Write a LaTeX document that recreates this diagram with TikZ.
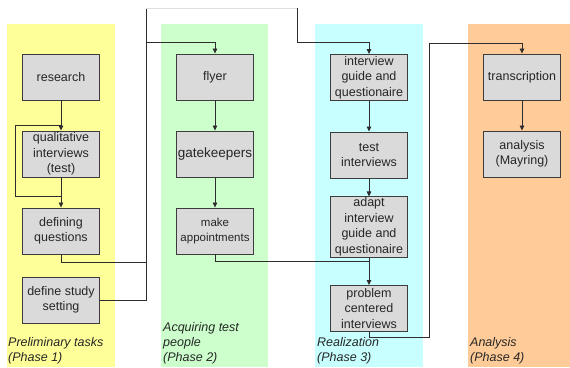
\documentclass[tikz,border=0pt]{standalone}
\usepackage{fontspec}
\setmainfont{Liberation Sans}
\usetikzlibrary{arrows.meta}
\definecolor{bandyellow}{RGB}{255,255,153}
\definecolor{bandgreen}{RGB}{204,255,204}
\definecolor{bandcyan}{RGB}{200,255,255}
\definecolor{bandorange}{RGB}{255,204,153}
\definecolor{boxfill}{RGB}{218,218,218}
\definecolor{boxline}{RGB}{60,60,60}
\definecolor{linecol}{RGB}{45,45,45}
\tikzset{
  stepbox/.style={draw=boxline, line width=0.9pt, fill=boxfill, minimum width=77pt, minimum height=46pt,
    inner sep=1pt, align=center, font=\fontsize{12.5}{15.5}\selectfont, text=black!85},
  conn/.style={draw=linecol, line width=0.8pt},
  arr/.style={conn, -{Triangle[length=5pt,width=4.5pt]}},
  phaselabel/.style={anchor=west, align=left, inner sep=0pt, font=\fontsize{12.5}{15}\selectfont\itshape, text=black!85},
}
\begin{document}
\begin{tikzpicture}[x=1pt,y=-1pt]
\useasboundingbox (0,0) rectangle (570,367);
\fill[white] (0,0) rectangle (570,367);
% bands
\fill[bandyellow] (7,24) rectangle (115,367);
\fill[bandgreen] (161,24) rectangle (268,367);
\fill[bandcyan] (315,24) rectangle (423,367);
\fill[bandorange] (468,24) rectangle (570,367);
% phase labels
\node[phaselabel] (lab1) at (8,350.5) {Preliminary tasks\\(Phase 1)};
\node[phaselabel] (lab2) at (163,343) {Acquiring test\\people\\(Phase 2)};
\node[phaselabel] (lab3) at (317,350.5) {Realization\\(Phase 3)};
\node[phaselabel] (lab4) at (470,350.5) {Analysis\\(Phase 4)};
% boxes
\node[stepbox] (research) at (61,77) {research};
\node[stepbox] (qual) at (61,154) {qualitative\\interviews\\(test)};
\node[stepbox] (defq) at (61,231) {defining\\questions};
\node[stepbox] (setting) at (61,300) {define study\\setting};
\node[stepbox] (flyer) at (215,77) {flyer};
\node[stepbox, font=\fontsize{13.5}{15.5}\selectfont] (gate) at (215,154) {gatekeepers};
\node[stepbox, font=\fontsize{11.5}{15.5}\selectfont] (appt) at (215,231) {make\\appointments};
\node[stepbox] (guide) at (369,77.5) {interview\\guide and\\questionaire};
\node[stepbox] (test) at (369,155) {test\\interviews};
\node[stepbox, minimum height=54pt] (adapt) at (369,227) {adapt\\interview\\guide and\\questionaire};
\node[stepbox] (problem) at (369,308.5) {problem\\centered\\interviews};
\node[stepbox] (transcr) at (522,77) {transcription};
\node[stepbox] (analysis) at (522,154) {analysis\\(Mayring)};
% junction coordinates
\coordinate (loopTop) at (61,125);
\coordinate (loopBot) at (61,196);
\coordinate (loopTL) at (15,125);
\coordinate (loopBL) at (15,196);
\coordinate (dqTurn) at (61,262);
\coordinate (dqJoin) at (146,262);
\coordinate (setJoin) at (146,300);
\coordinate (flyTurn) at (146,42);
\coordinate (flyAbove) at (215,42);
\coordinate (topL) at (146,8);
\coordinate (topR) at (297,8);
\coordinate (guideTurn) at (297,42);
\coordinate (guideAbove) at (369,42);
\coordinate (apTurn) at (215,261);
\coordinate (apJoin) at (369,261);
\coordinate (prTurn) at (369,337);
\coordinate (prRight) at (429,337);
\coordinate (trTurn) at (429,43);
\coordinate (trAbove) at (522,43);
% phase 1
\draw[arr] (research) -- (qual);
\draw[arr] (qual) -- (defq);
\draw[conn] (loopBot) -- (loopBL) -- (loopTL) -- (loopTop);
\draw[conn] (defq.south) -- (dqTurn) -- (dqJoin);
\draw[conn] (setting.east) -- (setJoin) -- (flyTurn);
\draw[arr] (flyTurn) -- (flyAbove) -- (flyer.north);
\draw[conn] (flyTurn) -- (topL);
\draw[draw=gray!25, line width=0.8pt] (topL) -- (topR);
\draw[arr] (topR) -- (guideTurn) -- (guideAbove) -- (guide.north);
% phase 2
\draw[arr] (flyer) -- (gate);
\draw[arr] (gate) -- (appt);
\draw[conn] (appt.south) -- (apTurn) -- (apJoin);
% phase 3
\draw[arr] (guide) -- (test);
\draw[arr] (test) -- (adapt);
\draw[arr] (adapt) -- (problem);
\draw[arr] (problem.south) -- (prTurn) -- (prRight) -- (trTurn) -- (trAbove) -- (transcr.north);
% phase 4
\draw[arr] (transcr) -- (analysis);
\end{tikzpicture}
\end{document}
